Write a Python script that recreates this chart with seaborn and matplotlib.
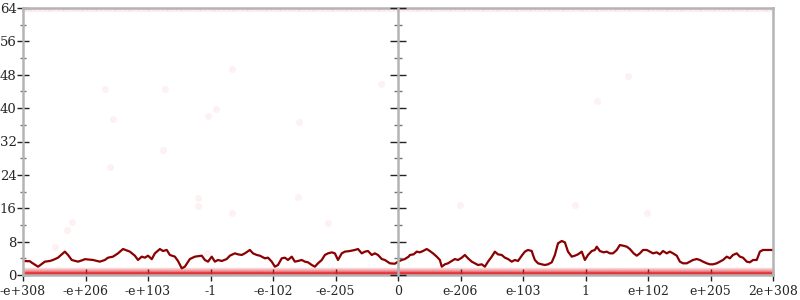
import numpy as np
import pandas as pd
import matplotlib
matplotlib.use("Agg")
import matplotlib.pyplot as plt
import seaborn as sns
from matplotlib.ticker import MultipleLocator, FixedLocator

# ---------------- data ----------------
x_tick_labels = ["-e+308", "-e+206", "-e+103", "-1", "-e-102", "-e-205", "0",
                 "e-206", "e-103", "1", "e+102", "e+205", "2e+308"]

# moving-average line (position in tick units, value)
line_x = [0.00, 0.11, 0.14, 0.24, 0.27, 0.35, 0.43, 0.48, 0.56, 0.67, 0.72, 0.78, 0.88, 0.96, 0.99,
          1.12, 1.23, 1.31, 1.36, 1.44, 1.52, 1.60, 1.71, 1.79, 1.84, 1.90, 1.95, 2.00, 2.06, 2.11,
          2.19, 2.24, 2.30, 2.35, 2.43, 2.48, 2.54, 2.59, 2.67, 2.75, 2.86, 2.91, 2.96, 3.02, 3.07,
          3.12, 3.18, 3.26, 3.31, 3.39, 3.44, 3.50, 3.55, 3.63, 3.68, 3.74, 3.79, 3.87, 3.92, 3.98,
          4.03, 4.08, 4.14, 4.19, 4.24, 4.30, 4.35, 4.40, 4.46, 4.51, 4.56, 4.62, 4.67, 4.72, 4.78,
          4.83, 4.88, 4.94, 4.99, 5.04, 5.10, 5.15, 5.23, 5.31, 5.36, 5.42, 5.47, 5.52, 5.58, 5.63,
          5.68, 5.74, 5.79, 5.87, 5.95, 6.00, 6.06, 6.11, 6.17, 6.19, 6.25, 6.30, 6.35, 6.40, 6.46,
          6.51, 6.56, 6.62, 6.67, 6.70, 6.75, 6.80, 6.86, 6.91, 6.96, 7.02, 7.07, 7.12, 7.18, 7.23,
          7.28, 7.34, 7.39, 7.44, 7.50, 7.55, 7.60, 7.66, 7.71, 7.76, 7.82, 7.87, 7.92, 7.98, 8.03,
          8.08, 8.14, 8.16, 8.19, 8.24, 8.30, 8.35, 8.40, 8.46, 8.51, 8.56, 8.62, 8.67, 8.72, 8.78,
          8.83, 8.88, 8.94, 8.99, 9.04, 9.10, 9.15, 9.18, 9.23, 9.29, 9.34, 9.39, 9.44, 9.50, 9.55,
          9.60, 9.66, 9.71, 9.77, 9.82, 9.87, 9.92, 9.98, 10.03, 10.08, 10.14, 10.19, 10.24, 10.30,
          10.35, 10.40, 10.46, 10.51, 10.56, 10.62, 10.67, 10.72, 10.78, 10.83, 10.88, 10.94, 10.99,
          11.04, 11.10, 11.15, 11.20, 11.26, 11.31, 11.36, 11.42, 11.47, 11.52, 11.58, 11.63, 11.68,
          11.74, 11.79, 11.84, 11.90, 11.95, 12.00]
line_y = [3.36, 3.30, 2.96, 2.00, 2.30, 3.20, 3.36, 3.60, 4.15, 5.60, 4.80, 3.60, 3.20, 3.60, 3.80,
          3.60, 3.20, 3.60, 4.15, 4.40, 5.19, 6.23, 5.60, 4.63, 3.60, 4.40, 4.15, 4.63, 3.80, 5.19,
          6.23, 5.75, 6.00, 4.80, 4.40, 3.36, 1.60, 2.00, 3.83, 4.40, 4.63, 3.60, 3.20, 4.40, 3.20,
          3.60, 3.36, 3.83, 4.63, 5.19, 4.95, 4.80, 5.19, 6.00, 5.19, 4.80, 4.63, 4.00, 4.15, 3.20,
          2.00, 2.40, 4.00, 4.15, 3.60, 4.40, 3.20, 3.36, 3.60, 3.20, 3.04, 2.40, 2.00, 2.80, 3.60,
          4.80, 5.19, 5.43, 5.19, 3.60, 5.19, 5.60, 5.75, 6.00, 6.23, 5.19, 5.60, 5.75, 4.80, 5.19,
          4.80, 3.83, 3.60, 2.80, 2.70, 3.20, 3.60, 3.83, 4.40, 4.80, 4.95, 5.60, 5.43, 5.75, 6.23,
          5.75, 5.19, 4.40, 3.60, 2.00, 2.56, 2.80, 3.36, 3.83, 3.60, 4.15, 4.80, 4.00, 3.20, 2.80,
          2.40, 2.56, 2.00, 3.20, 4.40, 5.60, 4.95, 4.80, 4.15, 3.83, 3.20, 3.60, 3.36, 4.63, 5.60,
          6.00, 5.75, 4.80, 3.60, 2.80, 2.56, 2.40, 2.56, 3.04, 4.80, 7.59, 8.15, 7.83, 5.60, 4.40,
          4.63, 4.95, 5.60, 3.60, 4.80, 5.75, 6.00, 6.79, 5.75, 5.43, 5.60, 5.19, 5.19, 6.00, 7.19,
          7.03, 6.79, 6.23, 5.19, 4.63, 5.19, 6.00, 6.00, 5.60, 5.19, 5.43, 4.95, 5.75, 5.19,
          5.60, 5.19, 4.63, 3.20, 2.80, 2.80, 3.20, 3.60, 3.83, 3.60, 3.20, 2.80, 2.56,
          2.56, 2.80, 3.20, 3.60, 4.40, 4.00, 4.80, 5.19, 4.40, 4.15, 3.20, 3.04, 3.60,
          3.60, 5.60, 6.00, 6.00, 6.00, 6.00]

# sparse individual samples (position, value)
sparse_x = [1.31, 2.27, 1.44, 2.96, 3.09, 4.42, 2.24, 1.39, 2.80, 2.80, 3.34, 4.40, 4.88, 5.73,
            0.78, 0.70, 0.51, 2.94, 6.99, 8.83, 9.98, 3.34, 9.68, 9.18]
sparse_y = [44.6, 44.6, 37.4, 38.1, 39.8, 36.7, 30.0, 25.9, 18.5, 16.5, 14.9, 18.7, 12.5, 45.8,
            12.7, 10.8, 6.7, 5.3, 16.8, 16.8, 14.9, 49.4, 47.7, 41.7]

# dense sample bands: value level and number of samples across the range
band_levels = [0, 0.5, 1, 64]
band_counts = [2400, 500, 500, 160]

# ---------------- figure ----------------
sns.set_theme(style="white")
plt.rcParams["font.family"] = ["DejaVu Serif"]

fig = plt.figure(figsize=(8, 3), dpi=100)
ax = fig.add_axes([23 / 800, 1 - 275 / 300, 750 / 800, 267 / 300])

band_frames = []
for lvl, cnt in zip(band_levels, band_counts):
    band_frames.append(pd.DataFrame({"x": np.linspace(0, 12, cnt), "y": lvl}))
bands = pd.concat(band_frames, ignore_index=True)
sparse = pd.DataFrame({"x": sparse_x, "y": sparse_y})
line = pd.DataFrame({"x": line_x, "y": line_y})

pt_color = "#e8202a"
sns.scatterplot(data=bands, x="x", y="y", ax=ax, color=pt_color, alpha=0.07,
                s=30, linewidth=0, legend=False)
sns.scatterplot(data=sparse, x="x", y="y", ax=ax, color=pt_color, alpha=0.06,
                s=26, linewidth=0, legend=False)
sns.lineplot(data=line, x="x", y="y", ax=ax, color="#8b0000", linewidth=1.6,
             estimator=None, sort=False)

ax.set_xlim(0, 12)
ax.set_ylim(0, 64)
ax.set_xlabel("")
ax.set_ylabel("")

spine_col = "#b4b4b4"
for s in ["left", "right", "top", "bottom"]:
    ax.spines[s].set_visible(True)
    ax.spines[s].set_color(spine_col)
    ax.spines[s].set_linewidth(1.8)

ax.xaxis.set_major_locator(FixedLocator(range(len(x_tick_labels))))
ax.set_xticklabels(x_tick_labels, fontsize=9)
ax.yaxis.set_major_locator(MultipleLocator(8))
ax.yaxis.set_minor_locator(MultipleLocator(4))
ax.tick_params(axis="y", which="major", direction="inout", length=8, width=1,
               color="#222222", left=True, right=True, labelsize=9.5, pad=0.5)
ax.tick_params(axis="y", which="minor", direction="inout", length=5, width=1,
               color="#777777", left=True, right=True)
ax.tick_params(axis="x", which="major", direction="inout", length=8, width=1,
               color="#222222", bottom=True, top=False, labelsize=9, pad=3)

# central axis with its own ticks
ax2 = ax.twinx()
ax2.set_ylim(ax.get_ylim())
ax2.spines["right"].set_position(("axes", 0.5))
for s in ["left", "top", "bottom"]:
    ax2.spines[s].set_visible(False)
ax2.spines["right"].set_color(spine_col)
ax2.spines["right"].set_linewidth(1.8)
ax2.yaxis.set_major_locator(MultipleLocator(8))
ax2.yaxis.set_minor_locator(MultipleLocator(4))
ax2.tick_params(axis="y", which="major", direction="inout", length=12, width=1,
                color="#222222", labelright=False)
ax2.tick_params(axis="y", which="minor", direction="inout", length=6, width=1,
                color="#777777")
ax2.grid(False)
ax.grid(False)

fig.savefig("out.png", dpi=100)
